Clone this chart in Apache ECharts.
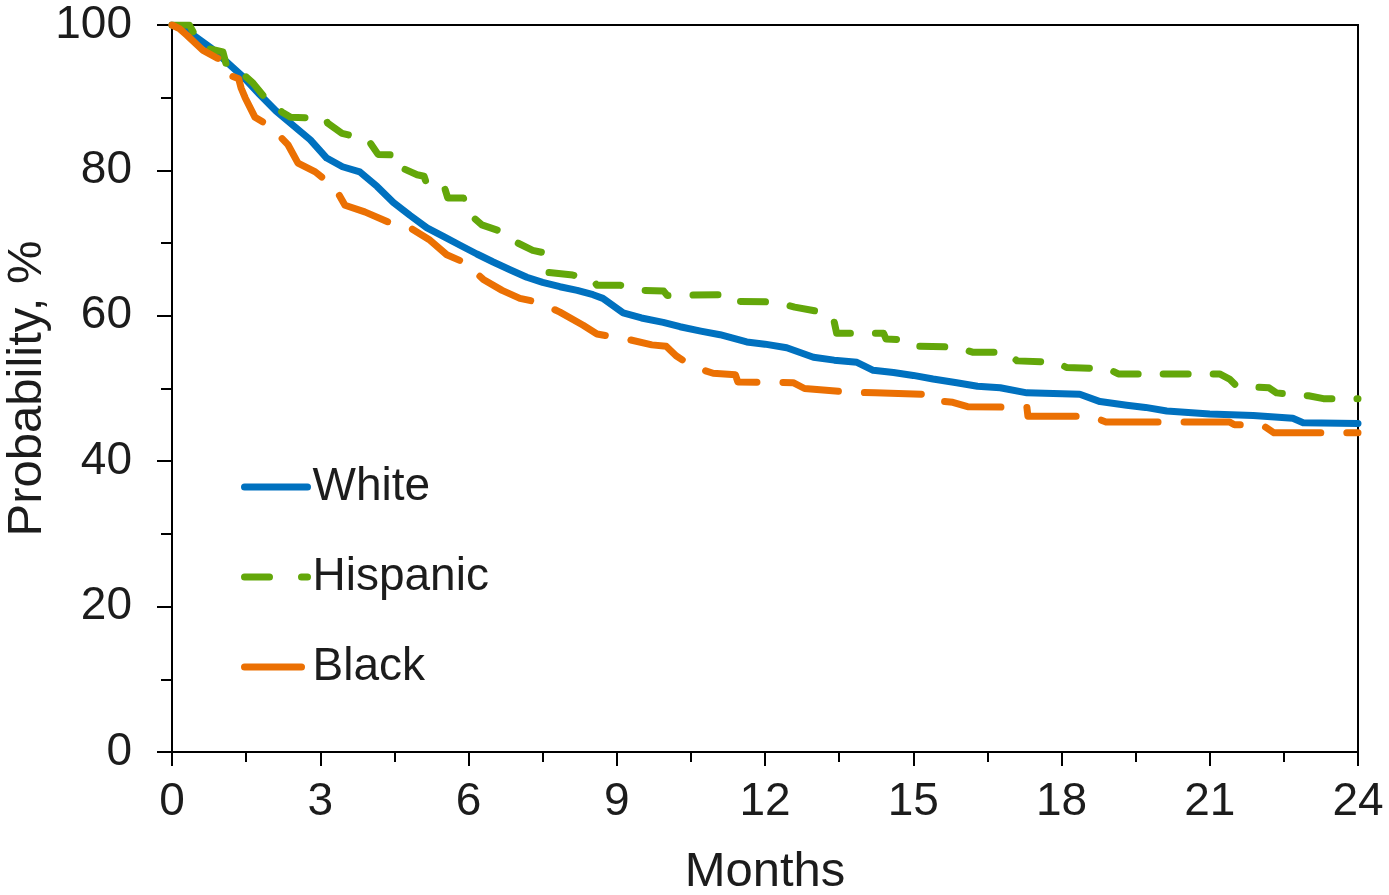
<!DOCTYPE html>
<html>
<head>
<meta charset="utf-8">
<script src="https://cdn.jsdelivr.net/npm/echarts@6/dist/echarts.min.js"></script>
<style>
html,body{margin:0;padding:0;background:#fff;}
#chart{width:1389px;height:895px;}
</style>
</head>
<body>
<div id="chart"></div>
<script>
// ---- data (months, probability %) ----
const seriesNames = ['White', 'Hispanic', 'Black'];
const xTicks = [0, 3, 6, 9, 12, 15, 18, 21, 24];
const yTicks = [0, 20, 40, 60, 80, 100];

const white = [
  [0,100],[0.2,99.5],[0.43,98.6],[0.8,96.8],[1.11,94.9],[1.45,92.8],[1.78,90.4],[2.1,88.2],
  [2.45,86.2],[2.8,84.2],[3.13,81.7],[3.45,80.5],[3.8,79.8],[4.15,77.8],[4.48,75.6],[4.82,73.8],
  [5.16,72.1],[5.5,70.9],[5.83,69.7],[6.17,68.5],[6.5,67.4],[6.85,66.3],[7.18,65.3],[7.5,64.6],
  [7.85,64.0],[8.2,63.5],[8.52,62.9],[8.72,62.4],[9.13,60.4],[9.5,59.7],[9.94,59.1],[10.28,58.5],
  [10.7,57.9],[11.09,57.4],[11.63,56.4],[12.0,56.1],[12.44,55.6],[12.98,54.3],[13.4,53.9],
  [13.86,53.6],[14.19,52.5],[14.6,52.2],[15.0,51.8],[15.4,51.3],[15.88,50.8],[16.3,50.3],
  [16.76,50.1],[17.3,49.4],[18.37,49.2],[18.78,48.2],[19.32,47.7],[19.7,47.4],[20.13,46.9],
  [21.0,46.5],[21.88,46.3],[22.68,45.9],[22.89,45.3],[24,45.2]
];

const hispanic = [
  [0,100],[0.35,100],[0.5,98.2],[0.7,96.8],[1.03,96.3],[1.1,94.5],[1.38,93.6],[1.64,92.0],
  [1.88,90.0],[2.23,88.0],[2.4,87.3],[3.1,87.2],[3.15,86.5],[3.44,85.1],[3.97,84.2],[4.17,82.2],
  [4.55,82.1],[4.6,80.5],[4.96,79.4],[5.1,79.2],[5.15,78.2],[5.5,78.0],[5.58,76.2],[5.9,76.2],
  [5.97,74.3],[6.27,72.5],[6.7,71.5],[7.0,70.0],[7.3,69.0],[7.5,68.7],[7.55,66.0],[8.11,65.6],
  [8.5,65.0],[8.6,64.2],[9.07,64.2],[9.51,63.5],[9.95,63.4],[10.02,62.8],[11.2,62.9],[11.35,62.0],
  [12.2,61.9],[12.6,61.2],[13.15,60.5],[13.38,59.8],[13.45,57.6],[14.4,57.6],[14.45,56.8],
  [14.87,56.7],[15.1,55.8],[15.88,55.7],[16.2,55.0],[16.9,55.0],[17.1,53.8],[17.9,53.6],
  [18.1,52.9],[18.95,52.7],[19.15,52.0],[21.2,52.0],[21.4,51.3],[21.55,50.3],[22.2,50.1],
  [22.35,49.4],[23.0,49.0],[23.3,48.6],[24,48.6]
];

const black = [
  [0,100],[0.15,99.5],[0.3,98.6],[0.63,96.5],[0.9,95.5],[1.0,95.2],[1.15,94.5],[1.2,93.0],
  [1.35,92.6],[1.4,91.3],[1.48,90.0],[1.68,87.3],[2.0,86.0],[2.35,83.5],[2.55,81.0],[2.9,79.8],
  [3.3,77.6],[3.5,75.2],[3.9,74.3],[4.41,72.8],[4.82,72.1],[5.2,70.5],[5.56,68.4],[5.93,67.3],
  [6.3,65.0],[6.68,63.5],[7.04,62.4],[7.45,61.8],[7.85,60.5],[8.32,58.7],[8.6,57.5],[9.27,56.7],
  [9.71,56.0],[10.0,55.8],[10.2,54.5],[10.54,53.0],[10.95,52.1],[11.4,51.9],[11.45,50.9],
  [12.57,50.8],[12.8,50.0],[13.68,49.5],[14.23,49.4],[15.2,49.2],[15.3,48.4],[15.8,48.1],
  [16.1,47.5],[17.3,47.4],[17.32,46.2],[18.6,46.2],[18.9,45.4],[21.4,45.4],[21.5,45.0],
  [22.06,45.0],[22.3,43.9],[24,43.9]
];

const colors = ['#0071bf', '#63a70a', '#eb7003'];
const FONT = "'Liberation Sans', Arial, sans-serif";
const TEXT = '#1c1c1c';

const chart = echarts.init(document.getElementById('chart'), null, {renderer: 'canvas'});

const lineCommon = {
  type: 'line',
  symbol: 'none',
  showSymbol: false,
  animation: false,
  clip: true
};

chart.setOption({
  animation: false,
  backgroundColor: '#fff',
  grid: {
    left: 172, right: 31, top: 25, bottom: 143,
    containLabel: false,
    outerBoundsMode: 'none',
    show: true, borderColor: '#000', borderWidth: 2, backgroundColor: 'transparent'
  },
  legend: {
    orient: 'vertical',
    left: 241,
    top: 464,
    padding: 0,
    itemWidth: 63,
    itemHeight: 14,
    itemGap: 44,
    itemStyle: {opacity: 0, borderWidth: 0},
    lineStyle: {width: 7, cap: 'round', join: 'round'},
    textStyle: {fontFamily: FONT, fontSize: 46, color: TEXT, lineHeight: 46},
    data: [
      {name: 'White', itemStyle: {opacity: 0}, lineStyle: {width: 7, type: 'solid', cap: 'round'}},
      {name: 'Hispanic', itemStyle: {opacity: 0}, lineStyle: {type: [25, 32], width: 7, cap: 'round'}},
      {name: 'Black', itemStyle: {opacity: 0}, lineStyle: {type: [57, 26], width: 7, cap: 'round'}}
    ]
  },
  xAxis: {
    type: 'value',
    min: 0, max: 24, interval: 3,
    name: 'Months',
    nameLocation: 'middle',
    nameGap: 96,
    nameMoveOverlap: false,
    nameTextStyle: {fontFamily: FONT, fontSize: 49, color: TEXT},
    axisLine: {show: true, onZero: false, lineStyle: {color: '#000', width: 2}},
    axisTick: {show: true, inside: false, length: 14, lineStyle: {color: '#000', width: 2}},
    minorTick: {show: true, splitNumber: 2, length: 10, lineStyle: {color: '#000', width: 2}},
    splitLine: {show: false},
    minorSplitLine: {show: false},
    axisLabel: {
      margin: 27, fontFamily: FONT, fontSize: 46, color: TEXT,
      formatter: v => (xTicks.indexOf(v) >= 0 ? String(v) : '')
    }
  },
  yAxis: {
    type: 'value',
    min: 0, max: 100, interval: 20,
    name: 'Probability, %',
    nameLocation: 'middle',
    nameGap: 120,
    nameMoveOverlap: false,
    nameTextStyle: {fontFamily: FONT, fontSize: 49, color: TEXT},
    axisLine: {show: true, onZero: false, lineStyle: {color: '#000', width: 2}},
    axisTick: {show: true, inside: false, length: 15, lineStyle: {color: '#000', width: 2}},
    minorTick: {show: true, splitNumber: 2, length: 11, lineStyle: {color: '#000', width: 2}},
    splitLine: {show: false},
    minorSplitLine: {show: false},
    axisLabel: {
      margin: 40, fontFamily: FONT, fontSize: 46, color: TEXT,
      formatter: v => (yTicks.indexOf(v) >= 0 ? String(v) : '')
    }
  },
  series: [
    Object.assign({}, lineCommon, {
      name: seriesNames[0], data: white, color: colors[0],
      lineStyle: {color: colors[0], width: 7, type: 'solid', cap: 'round', join: 'round'}
    }),
    Object.assign({}, lineCommon, {
      name: seriesNames[1], data: hispanic, color: colors[1],
      lineStyle: {color: colors[1], width: 7, type: [25, 25], cap: 'round', join: 'round'}
    }),
    Object.assign({}, lineCommon, {
      name: seriesNames[2], data: black, color: colors[2],
      lineStyle: {color: colors[2], width: 7, type: [57, 26], cap: 'round', join: 'round'}
    })
  ]
});
</script>
</body>
</html>
